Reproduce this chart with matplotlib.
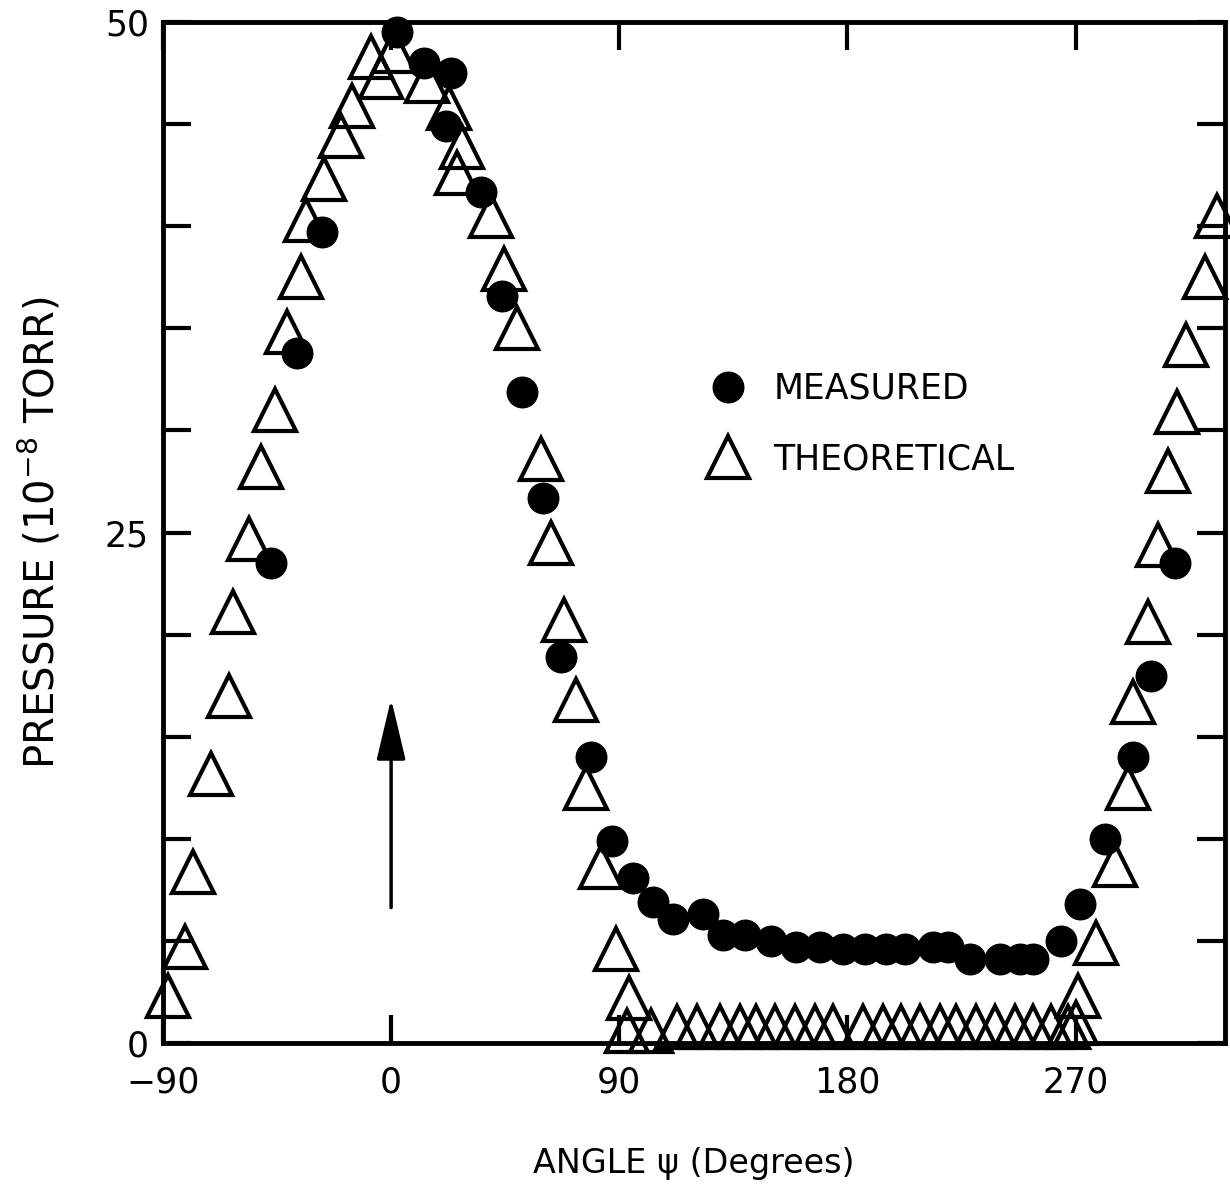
import matplotlib
matplotlib.use("Agg")
import matplotlib.pyplot as plt
from matplotlib.lines import Line2D

# Measured pressure (filled circles), angle in degrees, pressure in 1e-8 torr
meas_angle = [-47.2, -37.0, -27.2, 2.4, 13.0, 23.6, 21.7, 35.4, 43.7, 51.6,
              59.8, 66.9, 78.7, 87.0, 95.3, 103.5, 111.4, 123.2, 131.1, 139.8,
              150.0, 159.8, 169.3, 178.3, 187.0, 195.3, 202.8, 213.8, 219.7,
              228.3, 240.2, 248.0, 253.1, 264.2, 271.7, 281.5, 292.5, 299.6, 309.4]
meas_p = [23.5, 33.8, 39.7, 49.5, 48.0, 47.5, 44.9, 41.7, 36.6, 31.9,
          26.7, 18.9, 14.0, 9.9, 8.1, 6.9, 6.1, 6.3, 5.3, 5.3,
          5.0, 4.7, 4.7, 4.6, 4.6, 4.6, 4.6, 4.7, 4.7,
          4.1, 4.1, 4.1, 4.1, 5.0, 6.8, 10.0, 14.0, 18.0, 23.5]

# Theoretical pressure (open triangles)
theo_angle = [-88.2, -81.5, -78.0, -70.9, -63.8, -62.2, -55.9, -51.2, -45.7,
              -40.9, -35.4, -33.5, -26.4, -19.7, -15.4, -7.9, -4.0, 1.0,
              14.2, 22.8, 28.0, 26.0, 39.4, 44.5, 49.6, 59.1, 63.0, 68.1,
              72.8, 76.8, 82.7, 88.6, 93.7, 92.9, 102.4,
              112.6, 120.5, 129.9, 137.8, 144.1, 151.6, 159.4, 167.3, 174.4,
              186.2, 194.1, 201.2, 208.7, 216.5, 222.8, 230.7, 238.2, 246.1,
              253.1, 260.2, 266.9, 270.0, 270.9,
              278.0, 285.4, 290.6, 292.5, 298.4, 302.4, 306.3, 310.2, 313.4,
              320.9, 326.0]
theo_p = [2.3, 4.7, 8.4, 13.2, 17.0, 21.1, 24.7, 28.2, 31.0,
          34.8, 37.5, 40.3, 42.3, 44.4, 45.9, 48.3, 47.3, 48.6,
          47.1, 45.8, 43.9, 42.6, 40.5, 37.9, 35.0, 28.6, 24.5, 20.7,
          16.8, 12.5, 8.6, 4.6, 2.2, 0.6, 0.6,
          0.8, 0.8, 0.8, 0.8, 0.8, 0.8, 0.8, 0.8, 0.8,
          0.8, 0.8, 0.8, 0.8, 0.8, 0.8, 0.8, 0.8, 0.8,
          0.8, 0.8, 0.8, 1.0, 2.3,
          4.9, 8.7, 12.5, 16.7, 20.6, 24.4, 28.0, 30.9, 34.2,
          37.5, 40.5]

x_ticks = [-90, 0, 90, 180, 270]
y_ticks = [0, 5, 10, 15, 20, 25, 30, 35, 40, 45, 50]
y_labels = ['0', '', '', '', '', '25', '', '', '', '', '50']

font = ['Liberation Sans Narrow', 'DejaVu Sans']

fig = plt.figure(figsize=(12.3, 11.84), dpi=100)
ax = fig.add_axes([0.1325, 0.119, 0.8635, 0.8624])

ax.plot(theo_angle, theo_p, linestyle='none', marker='^', ms=30,
        mfc='none', mec='black', mew=3, clip_on=False, zorder=3)
ax.plot(meas_angle, meas_p, linestyle='none', marker='o', ms=22,
        mfc='black', mec='black', clip_on=False, zorder=4)

ax.set_xlim(-90, 329)
ax.set_ylim(0, 50)

# arrow pointing up at psi = 0
ax.annotate('', xy=(0, 17.0), xytext=(0, 6.5),
            arrowprops=dict(arrowstyle='-|>,head_length=1.9,head_width=0.45',
                            lw=2.5, color='black', mutation_scale=20))

for s in ax.spines.values():
    s.set_linewidth(3.5)

ax.set_xticks(x_ticks)
ax.set_yticks(y_ticks)
ax.set_yticklabels(y_labels)
ax.tick_params(direction='in', length=20, width=3, top=True, right=True,
               labelsize=25, pad=10)
ax.tick_params(axis='x', pad=16)
for lab in ax.get_xticklabels() + ax.get_yticklabels():
    lab.set_family(font)

ax.set_xlabel('ANGLE ψ (Degrees)', fontsize=24, family=font, labelpad=34)
ax.set_ylabel('PRESSURE (10$^{-8}$ TORR)', fontsize=29, family=font, labelpad=30)

handles = [Line2D([], [], linestyle='none', marker='o', ms=22, mfc='black', mec='black'),
           Line2D([], [], linestyle='none', marker='^', ms=30, mfc='none',
                  mec='black', mew=3)]
ax.legend(handles, ['MEASURED', 'THEORETICAL'], loc='upper left',
          bbox_to_anchor=(0.47, 0.688), frameon=False, handletextpad=0.3,
          labelspacing=1.05, prop={'family': font, 'size': 25})

plt.savefig('out.png', dpi=100)
